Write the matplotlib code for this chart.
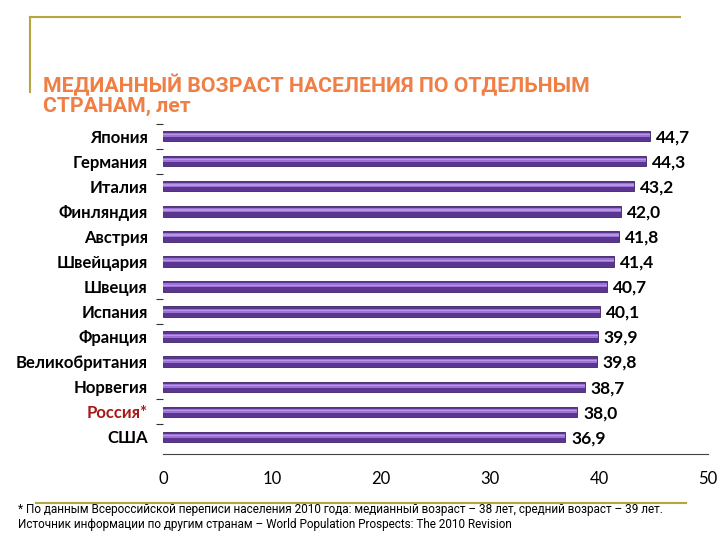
import matplotlib
matplotlib.use("Agg")
from matplotlib import pyplot as plt
from matplotlib.lines import Line2D
import numpy as np

countries = ["Япония", "Германия", "Италия", "Финляндия", "Австрия", "Швейцария",
             "Швеция", "Испания", "Франция", "Великобритания", "Норвегия", "Россия*", "США"]
median_age = [44.7, 44.3, 43.2, 42.0, 41.8, 41.4, 40.7, 40.1, 39.9, 39.8, 38.7, 38.0, 36.9]
value_labels = ["44,7", "44,3", "43,2", "42,0", "41,8", "41,4", "40,7", "40,1",
                "39,9", "39,8", "38,7", "38,0", "36,9"]
x_ticks = [0, 10, 20, 30, 40, 50]

title = "МЕДИАННЫЙ ВОЗРАСТ НАСЕЛЕНИЯ ПО ОТДЕЛЬНЫМ\nСТРАНАМ, лет"
note = ("* По данным Всероссийской переписи населения 2010 года: медианный возраст – 38 лет, средний возраст – 39 лет.\n"
        "Источник информации по другим странам – World Population Prospects: The 2010 Revision")

olive = "#B5A642"
fig = plt.figure(figsize=(7.2, 5.4), dpi=100)

# slide frame lines
fig.add_artist(Line2D([30/720, 680/720], [1-17/540, 1-17/540], color=olive, lw=1.5))
fig.add_artist(Line2D([30/720, 30/720], [1-17/540, 1-92/540], color=olive, lw=1.5))
fig.add_artist(Line2D([36/720, 686/720], [1-503/540, 1-503/540], color=olive, lw=1.5))

fig.text(43/720, 1-74/540, title, color="#F07F45", fontsize=15.3, fontweight="bold",
         family="Roboto", va="top", linespacing=1.05)

ax = fig.add_axes([163/720, 1-454/540, 545/720, 330.5/540])
y = np.arange(len(countries))
ax.barh(y, median_age, height=0.42, color="#5B3590", edgecolor="#3E2466", lw=0.6)
ax.barh(y - 0.04, median_age, height=0.16, color="#9C72D6", lw=0)
ax.barh(y - 0.05, median_age, height=0.05, color="#B796E6", lw=0)
for yi, v, s in zip(y, median_age, value_labels):
    ax.text(v + 0.55, yi + 0.05, s, va="center", ha="left", fontsize=12.5,
            fontweight="bold", family="Lato")

ax.set_xlim(0, 50)
ax.set_ylim(12.68, -0.5)
ax.set_yticks(y)
ax.set_yticklabels(countries, fontsize=12, fontweight="bold", family="Lato")
for lbl in ax.get_yticklabels():
    if lbl.get_text().startswith("Россия"):
        lbl.set_color("#A81818")
ax.tick_params(axis="y", length=0, pad=11)
ax.set_yticks([-0.5, 0.5, 1.5, 6.5, 7.5, 10.5, 11.5], minor=True)
ax.tick_params(axis="y", which="minor", length=5, width=0.8, color="#333333")
ax.set_xticks(x_ticks)
ax.set_xticklabels([str(t) for t in x_ticks], fontsize=12, family="Lato")
ax.tick_params(axis="x", length=0, pad=12)
for side in ["top", "right", "left"]:
    ax.spines[side].set_visible(False)
ax.spines["bottom"].set_color("#444444")

fig.text(18/720, 1-503/540, note, fontsize=8.5, family="Roboto",
         va="top", linespacing=1.2)

fig.savefig("out.png", dpi=100)
